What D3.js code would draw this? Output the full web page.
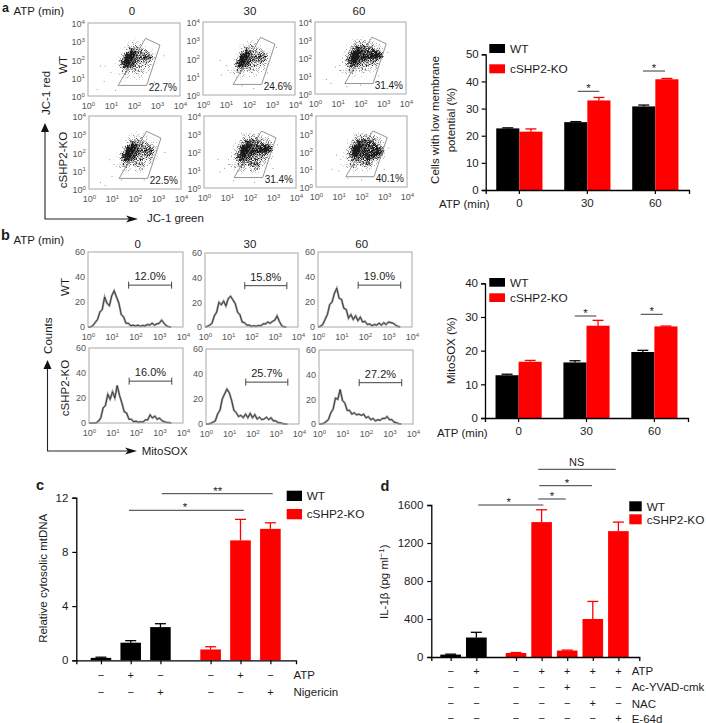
<!DOCTYPE html>
<html>
<head>
<meta charset="utf-8">
<script src="https://cdn.jsdelivr.net/npm/d3@7"></script>
<style>
  html, body { margin: 0; padding: 0; background: #fff; }
  svg { display: block; }
  text { font-family: "Liberation Sans", Arial, sans-serif; fill: #1c1c1c; }
  .tick text { font-family: "Liberation Sans", Arial, sans-serif; }
</style>
</head>
<body>
<svg id="fig" width="706" height="723"></svg>
<script>
const times = ['0', '30', '60'];
const groups = ['WT', 'KO'];
const legendNames = ['WT', 'cSHP2-KO'];

// panel a bars
const aWT = [22.7, 25, 30.8];
const aWTErr = [0.2, 0.2, 0.5];
const aKO = [21.5, 33, 40.8];
const aKOErr = [1, 1.1, 0.3];

// panel b bars
const bWT = [12.7, 16.5, 19.6];
const bWTErr = [0.3, 0.5, 0.5];
const bKO = [16.7, 27.4, 27.2];
const bKOErr = [0.4, 1.6, 0.1];

// panel c
const cWT = [0.18, 1.3, 2.45];
const cWTErr = [0.05, 0.15, 0.25];
const cKO = [0.8, 8.85, 9.7];
const cKOErr = [0.2, 1.55, 0.45];
const cATP = ['−', '+', '−', '−', '+', '−'];
const cNig = ['−', '−', '+', '−', '−', '+'];

// panel d
const dWT = [25, 205];
const dWTErr = [5, 55];
const dKO = [42, 1420, 68, 400, 1325];
const dKOErr = [5, 130, 5, 185, 95];
const dATP = ['−', '+', '−', '+', '+', '+', '+'];
const dAc = ['−', '−', '−', '−', '+', '−', '−'];
const dNAC = ['−', '−', '−', '−', '−', '+', '−'];
const dE64 = ['−', '−', '−', '−', '−', '−', '+'];

// flow gate, log10 green / log10 red
const gate = [[2.5, 3.16], [3.13, 2.79], [2.55, 0.58], [1.31, 0.58]];
const gatePct = ['22.7%', '24.6%', '31.4%', '22.5%', '31.4%', '40.1%'];
const histPct = ['12.0%', '15.8%', '19.0%', '16.0%', '25.7%', '27.2%'];

// dot density, 0-9. columns log10 green .9 to 3.1, rows log10 red 3.3 to .7
const densWT0 = [
  '000000000000', '000001210000', '000023321100', '000134432100', '000147654310', '000379765420',
  '001599668730', '002799655420', '002698544310', '012465444200', '012343343000', '001232231000',
  '000110210000', '000000000000'];
const densWT30 = [
  '000000000000', '000000121000', '000012321100', '000123432100', '000146543210', '000258655420',
  '000399667620', '001599666520', '001798544310', '023575444200', '023443333100', '012232231000',
  '001110100000', '000000000000'];
const densWT60 = [
  '000000000000', '000001211100', '000134432210', '000245544320', '001368766531', '002499877851',
  '002699889981', '003799766630', '023687555420', '023565444300', '133443333100', '012232221000',
  '001110100000', '000000000000'];
const densKO0 = [
  '000000000000', '000001211000', '000023332100', '000134443210', '000147654420', '000379765530',
  '000499767730', '002799656630', '002798554420', '023575454300', '023444453100', '002332341000',
  '000110210000', '000000000000'];
const densKO30 = [
  '000000000000', '000012211100', '000133432210', '000245554420', '001358765540', '002499877860',
  '002599889972', '003699766630', '023787655430', '023576565300', '133455564100', '023343453000',
  '001221320000', '000000100000'];
const densKO60 = [
  '000000000000', '000001211100', '000134443300', '000245655420', '000358776530', '000489877640',
  '002599877860', '002699778970', '002577787640', '023466575300', '023445464100', '002343343000',
  '000121210000', '000000000000'];
const densities = [densWT0, densWT30, densWT60, densKO0, densKO30, densKO60];

// stray dots outside the clouds, log10 green / log10 red
const straysWT0 = [[0.55, 1.65], [0.75, 1.65], [0.4, 0.35], [0.7, 0.8], [1, 1.3], [3.3, 2.2], [2.9, 0.75], [1.2, 0.3]];
const straysWT30 = [[0.75, 1.9], [1, 1.6], [0.8, 1.1], [1.7, 0.5], [2.2, 0.35], [3.2, 2.6], [2.8, 1.2]];
const straysWT60 = [[0.5, 0.8], [0.7, 0.6], [0.9, 1.5], [1.4, 0.4], [2, 0.5], [3.2, 2.3], [2.8, 1]];
const straysKO0 = [[0.5, 0.35], [0.9, 1.6], [1, 0.7], [0.7, 0.2], [1.4, 0.5], [3.3, 2], [2.4, 0.5]];
const straysKO30 = [[0.7, 0.9], [0.9, 1.1], [0.6, 1.6], [1.3, 0.4], [2.2, 0.3], [3.2, 2.4], [3, 1.1]];
const straysKO60 = [[0.9, 1.8], [0.7, 1], [1, 0.9], [1.4, 0.5], [2, 0.4], [3.2, 2.2], [3, 1]];
const strays = [straysWT0, straysWT30, straysWT60, straysKO0, straysKO30, straysKO60];

// histograms, counts every 0.1 log10 from 10^0
const histWT0 = [0, 0, 1, 3.5, 6, 12, 14, 24, 19, 17, 25, 29, 24, 19, 10, 8, 3, 3, 1, 1.5, 0.8, 1.5, 0.6, 1.2, 0.8, 2, 1.5, 3, 1.5, 2.5, 3, 5.5, 3, 1, 0.2, 0];
const histWT30 = [0, 0.5, 1.5, 3, 9, 12, 20, 18, 21, 17, 23, 25, 22, 19, 12, 10, 4, 3.5, 1.5, 1.5, 0.6, 1, 0.5, 1.2, 1, 2.5, 2.5, 4, 3, 4.5, 5.5, 9, 4.5, 1, 0, 0];
const histWT60 = [0, 0.5, 2, 6, 10, 18, 20, 27, 31, 23, 22, 15, 14, 7, 10, 6, 9, 5, 8, 4, 4.5, 2, 2.5, 1, 2, 1.5, 3, 1.5, 3.5, 2, 4, 3.5, 3, 1.5, 0.5, 0];
const histKO0 = [0, 0, 0, 0, 1.5, 4, 12, 14, 23, 19, 25, 20, 30, 22, 16, 9, 8, 3, 3, 1, 1.5, 0.6, 1, 0.8, 2.5, 2.5, 6.5, 4, 5.5, 3, 4, 2, 1, 0.5, 0.3, 0];
const histKO30 = [0, 0, 0.5, 1.5, 2.5, 8, 11, 20, 24, 28, 25, 19, 11, 9, 6, 7, 5, 8, 5, 8.5, 5, 7.5, 4, 5.5, 3.5, 4, 5.5, 3.5, 5, 2.5, 2.5, 1, 1, 0.3, 0, 0];
const histKO60 = [0, 0, 0.5, 2, 3.5, 9, 12, 21, 20, 28, 19, 17, 11, 11, 8, 9, 7.5, 8, 7, 8, 5, 6, 3.5, 4.5, 2.5, 3.5, 3, 4.5, 4.5, 6, 3.5, 3.5, 1.5, 1, 0.2, 0];
const hists = [histWT0, histWT30, histWT60, histKO0, histKO30, histKO60];

const fontSize = 11.5;
const black = '#000';
const red = '#ff0000';
const grey = '#a8a8a8';
const svg = d3.select('#fig');

// grain so the density cells read as dots, solid in the core and sparse at the rim
const grain = svg.append('defs').append('filter').attr('id', 'grain')
  .attr('x', '-10%').attr('y', '-10%').attr('width', '120%').attr('height', '120%')
  .attr('color-interpolation-filters', 'sRGB');
grain.append('feGaussianBlur').attr('in', 'SourceGraphic').attr('stdDeviation', 1.2).attr('result', 'soft');
grain.append('feTurbulence').attr('type', 'fractalNoise').attr('baseFrequency', 1.3)
  .attr('numOctaves', 1).attr('seed', 4).attr('result', 'noise');
grain.append('feColorMatrix').attr('in', 'noise').attr('type', 'matrix')
  .attr('values', '0 0 0 0 0  0 0 0 0 0  0 0 0 0 0  2.2 0 0 0 -0.6').attr('result', 'noiseAlpha');
grain.append('feComposite').attr('in', 'soft').attr('in2', 'noiseAlpha').attr('operator', 'arithmetic')
  .attr('k1', 0).attr('k2', 2.3).attr('k3', 1.5).attr('k4', -1.5).attr('result', 'speck');
grain.append('feFlood').attr('flood-color', '#1a1a1a').attr('result', 'ink');
grain.append('feComposite').attr('in', 'ink').attr('in2', 'speck').attr('operator', 'in').attr('result', 'dots');
grain.append('feGaussianBlur').attr('in', 'dots').attr('stdDeviation', 0.3);

function label(x, y, str, opts) {
  opts = opts || {};
  let t = svg.append('text')
    .attr('x', x).attr('y', y)
    .attr('font-size', opts.size || fontSize)
    .attr('text-anchor', opts.anchor || 'start')
    .text(str);
  if (opts.rotate) t.attr('transform', `rotate(-90 ${x} ${y})`);
  if (opts.bold) t.attr('font-weight', 'bold');
  return t;
}

// 10^n tick labels
function powerTicks(axisG, size) {
  axisG.select('.domain').remove();
  axisG.selectAll('.tick line').remove();
  axisG.selectAll('.tick text').each(function (d) {
    let t = d3.select(this).attr('fill', '#555').style('fill', '#555').attr('font-size', size);
    t.text(null);
    t.append('tspan').text('10');
    t.append('tspan').attr('font-size', size * 0.68).attr('dy', -3.5).text(Math.round(Math.log10(d)));
  });
}

function frame(g, w, h) {
  g.append('rect').attr('width', w).attr('height', h)
    .attr('fill', 'none').attr('stroke', grey).attr('stroke-width', 1);
}

function logAxes(g, x, y, w, h) {
  let powers = [1, 10, 100, 1000, 10000];
  let ax = g.append('g').attr('transform', `translate(0,${h})`)
    .call(d3.axisBottom(x).tickValues(powers).tickSize(0).tickPadding(4));
  powerTicks(ax, 9);
  ax.selectAll('.tick text').attr('dy', '1.05em');
  let ay = g.append('g')
    .call(d3.axisLeft(y).tickValues(powers).tickSize(0).tickPadding(3));
  powerTicks(ay, 9);
  ay.selectAll('.tick text').attr('dy', '0.4em');
}

function dotPlot(idx, px, py, w, h) {
  let g = svg.append('g').attr('transform', `translate(${px},${py})`);
  let x = d3.scaleLog().domain([1, 10000]).range([0, w]);
  let y = d3.scaleLog().domain([1, 10000]).range([h, 0]);
  let cols = d3.range(12).map(i => 0.9 + i * 0.2);
  let rows = d3.range(14).map(i => 3.3 - i * 0.2);
  let cells = [];
  densities[idx].forEach((row, r) => {
    row.split('').forEach((v, c) => {
      if (+v > 0) cells.push({ lx: cols[c], ly: rows[r], v: +v });
    });
  });
  g.append('g').attr('filter', 'url(#grain)').selectAll('rect').data(cells).join('rect')
    .attr('x', d => x(10 ** (d.lx - 0.1)))
    .attr('y', d => y(10 ** (d.ly + 0.1)))
    .attr('width', d => x(10 ** (d.lx + 0.1)) - x(10 ** (d.lx - 0.1)))
    .attr('height', d => y(10 ** (d.ly - 0.1)) - y(10 ** (d.ly + 0.1)))
    .attr('fill', '#000')
    .attr('opacity', d => Math.pow(d.v / 9, 1.2));
  g.append('g').selectAll('circle').data(strays[idx]).join('circle')
    .attr('cx', d => x(10 ** d[0])).attr('cy', d => y(10 ** d[1]))
    .attr('r', 0.5).attr('fill', '#777');
  let gateLine = d3.line().x(d => x(10 ** d[0])).y(d => y(10 ** d[1])).curve(d3.curveLinearClosed);
  g.append('path').attr('d', gateLine(gate)).attr('fill', 'none').attr('stroke', '#888').attr('stroke-width', 0.9);
  frame(g, w, h);
  logAxes(g, x, y, w, h);
  g.append('text').attr('x', w - 3).attr('y', h - 5.5).attr('text-anchor', 'end')
    .attr('font-size', 10).text(gatePct[idx]);
}

function histPlot(idx, px, py, w, h) {
  let g = svg.append('g').attr('transform', `translate(${px},${py})`);
  let x = d3.scaleLog().domain([1, 10000]).range([0, w]);
  let y = d3.scaleLinear().domain([0, 60]).range([h, 0]);
  let line = d3.line().x((d, i) => x(10 ** (i * 0.1))).y(d => y(d));
  g.append('path').attr('d', line(hists[idx])).attr('fill', 'none').attr('stroke', '#a0a0a0').attr('stroke-width', 2.2);
  g.append('path').attr('d', line(hists[idx])).attr('fill', 'none').attr('stroke', '#262626').attr('stroke-width', 0.8);
  frame(g, w, h);
  let ax = g.append('g').attr('transform', `translate(0,${h})`)
    .call(d3.axisBottom(x).tickValues([1, 10, 100, 1000, 10000]).tickSize(0).tickPadding(4));
  powerTicks(ax, 9);
  ax.selectAll('.tick text').attr('dy', '1.05em');
  let ay = g.append('g').call(d3.axisLeft(y).tickValues([0, 20, 40, 60]).tickSize(0).tickPadding(3));
  ay.select('.domain').remove();
  ay.selectAll('.tick line').remove();
  ay.selectAll('.tick text').attr('font-size', 9).style('fill', '#555');
  // marker bracket
  let bx0 = x(10 ** 1.71), bx1 = x(10 ** 3.52), by = y(33.5);
  let b = g.append('g').attr('stroke', '#444').attr('stroke-width', 1);
  b.append('line').attr('x1', bx0).attr('x2', bx1).attr('y1', by).attr('y2', by);
  b.append('line').attr('x1', bx0).attr('x2', bx0).attr('y1', by - 3.5).attr('y2', by + 3.5);
  b.append('line').attr('x1', bx1).attr('x2', bx1).attr('y1', by - 3.5).attr('y2', by + 3.5);
  g.append('text').attr('x', (bx0 + bx1) / 2).attr('y', by - 5).attr('text-anchor', 'middle')
    .attr('font-size', 11).text(histPct[idx]);
}

function styleAxis(g) {
  g.selectAll('.domain').attr('stroke', black).attr('stroke-width', 1.3);
  g.selectAll('.tick line').attr('stroke', black).attr('stroke-width', 1.2);
  g.selectAll('.tick text').attr('font-size', fontSize).style('fill', '#1c1c1c');
}

function bars(g, rows, x, y, color) {
  let sel = g.append('g').selectAll('g').data(rows).join('g');
  sel.append('rect')
    .attr('x', d => x(d.key)).attr('width', x.bandwidth())
    .attr('y', d => y(d.value)).attr('height', d => y(0) - y(d.value))
    .attr('fill', color);
  let cap = 5.5;
  let mid = d => x(d.key) + x.bandwidth() / 2;
  sel.append('line')
    .attr('x1', mid).attr('x2', mid)
    .attr('y1', d => y(d.value)).attr('y2', d => y(d.value + d.err))
    .attr('stroke', color).attr('stroke-width', 1.3);
  sel.append('line')
    .attr('x1', d => mid(d) - cap).attr('x2', d => mid(d) + cap)
    .attr('y1', d => y(d.value + d.err)).attr('y2', d => y(d.value + d.err))
    .attr('stroke', color).attr('stroke-width', 1.3);
}

function legend(x, y1, y2, sw, sh, textX) {
  [y1, y2].forEach((yy, i) => {
    svg.append('rect').attr('x', x).attr('y', yy).attr('width', sw).attr('height', sh)
      .attr('fill', i === 0 ? black : red);
    label(textX, yy + sh / 2 + 4.2, legendNames[i], { size: 11.8 });
  });
}

function sig(x1, x2, y, str, starX) {
  svg.append('line').attr('x1', x1).attr('x2', x2).attr('y1', y).attr('y2', y)
    .attr('stroke', '#222').attr('stroke-width', 0.9);
  label(starX === undefined ? (x1 + x2) / 2 : starX, y + (str === 'NS' ? -3 : 1), str, {
    anchor: 'middle', size: str === 'NS' ? 11 : 11.5
  });
}

function groupedChart(opts) {
  let y = d3.scaleLinear().domain([0, opts.max]).range([opts.y0, opts.y1]);
  let x = d3.scaleBand().domain(times).range([opts.x0, opts.x1]).paddingInner(0.32).paddingOuter(0.155);
  let inner = d3.scaleBand().domain(groups).range([0, x.bandwidth()]);
  let g = svg.append('g');
  times.forEach((t, i) => {
    let gt = g.append('g').attr('transform', `translate(${x(t)},0)`);
    bars(gt, [{ key: 'WT', value: opts.wt[i], err: opts.wtErr[i] }], inner, y, black);
    bars(gt, [{ key: 'KO', value: opts.ko[i], err: opts.koErr[i] }], inner, y, red);
  });
  let ax = g.append('g').attr('transform', `translate(0,${opts.y0})`)
    .call(d3.axisBottom(x).tickSizeOuter(0).tickSize(4).tickPadding(4.8));
  styleAxis(ax);
  let ay = g.append('g').attr('transform', `translate(${opts.x0},0)`)
    .call(d3.axisLeft(y).tickValues(opts.ticks).tickFormat(d3.format('d')).tickSizeOuter(0).tickSize(4).tickPadding(3));
  styleAxis(ay);
}

// panel a flow plots
dotPlot(0, 88, 23, 92, 73);
dotPlot(1, 203, 22, 92, 73);
dotPlot(2, 315, 22, 91, 72);
dotPlot(3, 89, 116, 92, 73);
dotPlot(4, 204, 116, 92, 72);
dotPlot(5, 316, 116, 91, 71);

label(2, 11.5, 'a', { size: 12.5, bold: true });
label(13.5, 14.5, 'ATP (min)');
label(132, 14.5, '0', { anchor: 'middle' });
label(250, 14.5, '30', { anchor: 'middle' });
label(359, 14.5, '60', { anchor: 'middle' });
label(66.5, 65, 'WT', { rotate: true, anchor: 'middle' });
label(66.5, 160, 'cSHP2-KO', { rotate: true, anchor: 'middle' });
label(49.5, 93, 'JC-1 red', { rotate: true, anchor: 'middle' });
label(147, 222, 'JC-1 green');

function arrows(x, yTop, yBottom, xEnd) {
  svg.append('path').attr('d', `M${x},${yTop + 6}V${yBottom}H${xEnd - 8}`)
    .attr('fill', 'none').attr('stroke', '#222').attr('stroke-width', 1.1);
  svg.append('path').attr('d', `M${x},${yTop}l-4,9h8z`).attr('fill', '#111');
  svg.append('path').attr('d', `M${xEnd},${yBottom}l-12,-3.5l3,3.5l-3,3.5z`).attr('fill', '#111');
}
arrows(45, 123, 219, 138);
arrows(47.5, 360, 451, 137);

// panel a bars
groupedChart({
  max: 50, ticks: [0, 10, 20, 30, 40, 50], x0: 485.7, x1: 689, y0: 190, y1: 54.3,
  wt: aWT, wtErr: aWTErr, ko: aKO, koErr: aKOErr
});
legend(489.3, 44, 64.3, 15.7, 9, 510);
label(438.5, 120, 'Cells with low membrane', { rotate: true, anchor: 'middle' });
label(454.5, 120, 'potential (%)', { rotate: true, anchor: 'middle' });
label(439, 208, 'ATP (min)');
sig(577.7, 599.3, 91.3, '*');
sig(643, 665, 71, '*');

// panel b flow plots
histPlot(0, 88, 252, 95, 75);
histPlot(1, 205, 253, 93, 74);
histPlot(2, 318, 252, 94, 75);
histPlot(3, 89, 348, 94, 75);
histPlot(4, 206, 349, 93, 75);
histPlot(5, 319, 350, 94, 74);

label(1, 240, 'b', { size: 14.5, bold: true });
label(13.5, 244, 'ATP (min)');
label(137.7, 248, '0', { anchor: 'middle' });
label(250, 248, '30', { anchor: 'middle' });
label(361.7, 248, '60', { anchor: 'middle' });
label(68.5, 287, 'WT', { rotate: true, anchor: 'middle' });
label(68.5, 388, 'cSHP2-KO', { rotate: true, anchor: 'middle' });
label(52, 335.7, 'Counts', { rotate: true, anchor: 'middle' });
label(141.7, 454.5, 'MitoSOX');

// panel b bars
groupedChart({
  max: 40, ticks: [0, 10, 20, 30, 40], x0: 485, x1: 688, y0: 418, y1: 283.3,
  wt: bWT, wtErr: bWTErr, ko: bKO, koErr: bKOErr
});
legend(489.3, 278, 293.3, 15.7, 8.7, 510);
label(455, 350.7, 'MitoSOX (%)', { rotate: true, anchor: 'middle' });
label(437, 437, 'ATP (min)');
sig(574.7, 596.3, 316, '*');
sig(640.7, 662.7, 314.3, '*');

// panels c and d share this layout
function treatmentChart(opts) {
  let y = d3.scaleLinear().domain([0, opts.max]).range([opts.y0, opts.y1]);
  let xWT = d3.scaleBand().domain(d3.range(opts.wt.length)).range(opts.wtRange).paddingInner(opts.pad);
  let xKO = d3.scaleBand().domain(d3.range(opts.ko.length)).range(opts.koRange).paddingInner(opts.pad);
  let g = svg.append('g');
  bars(g, opts.wt.map((v, i) => ({ key: i, value: v, err: opts.wtErr[i] })), xWT, y, black);
  bars(g, opts.ko.map((v, i) => ({ key: i, value: v, err: opts.koErr[i] })), xKO, y, red);
  let centers = opts.wt.map((v, i) => xWT(i) + xWT.bandwidth() / 2)
    .concat(opts.ko.map((v, i) => xKO(i) + xKO.bandwidth() / 2));
  let ax = g.append('g').attr('transform', `translate(0,${opts.y0})`)
    .call(d3.axisBottom(d3.scaleIdentity([opts.x0, opts.x1])).tickValues(centers)
      .tickFormat('').tickSizeOuter(0).tickSize(4));
  styleAxis(ax);
  let ay = g.append('g').attr('transform', `translate(${opts.x0},0)`)
    .call(d3.axisLeft(y).tickValues(opts.ticks).tickFormat(d3.format('d')).tickSizeOuter(0).tickSize(4).tickPadding(4));
  styleAxis(ay);
  opts.signs.forEach(row => {
    row.values.forEach((s, i) => {
      label(centers[i], row.y + 3.5, s, { anchor: 'middle', size: 11 });
    });
    label(opts.labelX, row.y + 4, row.name);
  });
}

treatmentChart({
  max: 12, ticks: [0, 4, 8, 12], x0: 76.3, x1: 296, y0: 660.3, y1: 497.7,
  wt: cWT, wtErr: cWTErr, ko: cKO, koErr: cKOErr,
  wtRange: [90.7, 170.7], koRange: [200.3, 280.7], pad: 0.31, labelX: 293.5,
  signs: [{ name: 'ATP', values: cATP, y: 675 }, { name: 'Nigericin', values: cNig, y: 692.3 }]
});
legend(286.7, 490.7, 509, 15.3, 10.3, 306.7);
label(36, 490, 'c', { size: 14.5, bold: true });
label(47, 578.3, 'Relative cytosolic mtDNA', { rotate: true, anchor: 'middle' });
sig(161.7, 272.7, 493.7, '**', 217.7);
sig(129, 243.7, 510.3, '*', 185);

treatmentChart({
  max: 1600, ticks: [0, 400, 800, 1200, 1600], x0: 431.3, x1: 639.3, y0: 657, y1: 505,
  wt: dWT, wtErr: dWTErr, ko: dKO, koErr: dKOErr,
  wtRange: [440.3, 486.7], koRange: [505.7, 628.7], pad: 0.195, labelX: 631.7,
  signs: [
    { name: 'ATP', values: dATP, y: 671 },
    { name: 'Ac-YVAD-cmk', values: dAc, y: 687 },
    { name: 'NAC', values: dNAC, y: 703.5 },
    { name: 'E-64d', values: dE64, y: 718.5 }
  ]
});
legend(629.3, 501.3, 514.3, 12.4, 10, 646.7);
label(380.5, 490.5, 'd', { size: 14.5, bold: true });
let ilLabel = label(388, 581.7, 'IL-1β (pg ml', { rotate: true, anchor: 'middle' });
ilLabel.append('tspan').attr('font-size', 8).attr('dy', -4).text('−1');
ilLabel.append('tspan').attr('dy', 4).text(')');
sig(478.3, 543.3, 505, '*', 508.7);
sig(538.3, 565.7, 499, '*', 552);
sig(539.3, 592, 485.7, '*', 567);
sig(538.3, 615.7, 469.3, 'NS', 576.7);
</script>
</body>
</html>
